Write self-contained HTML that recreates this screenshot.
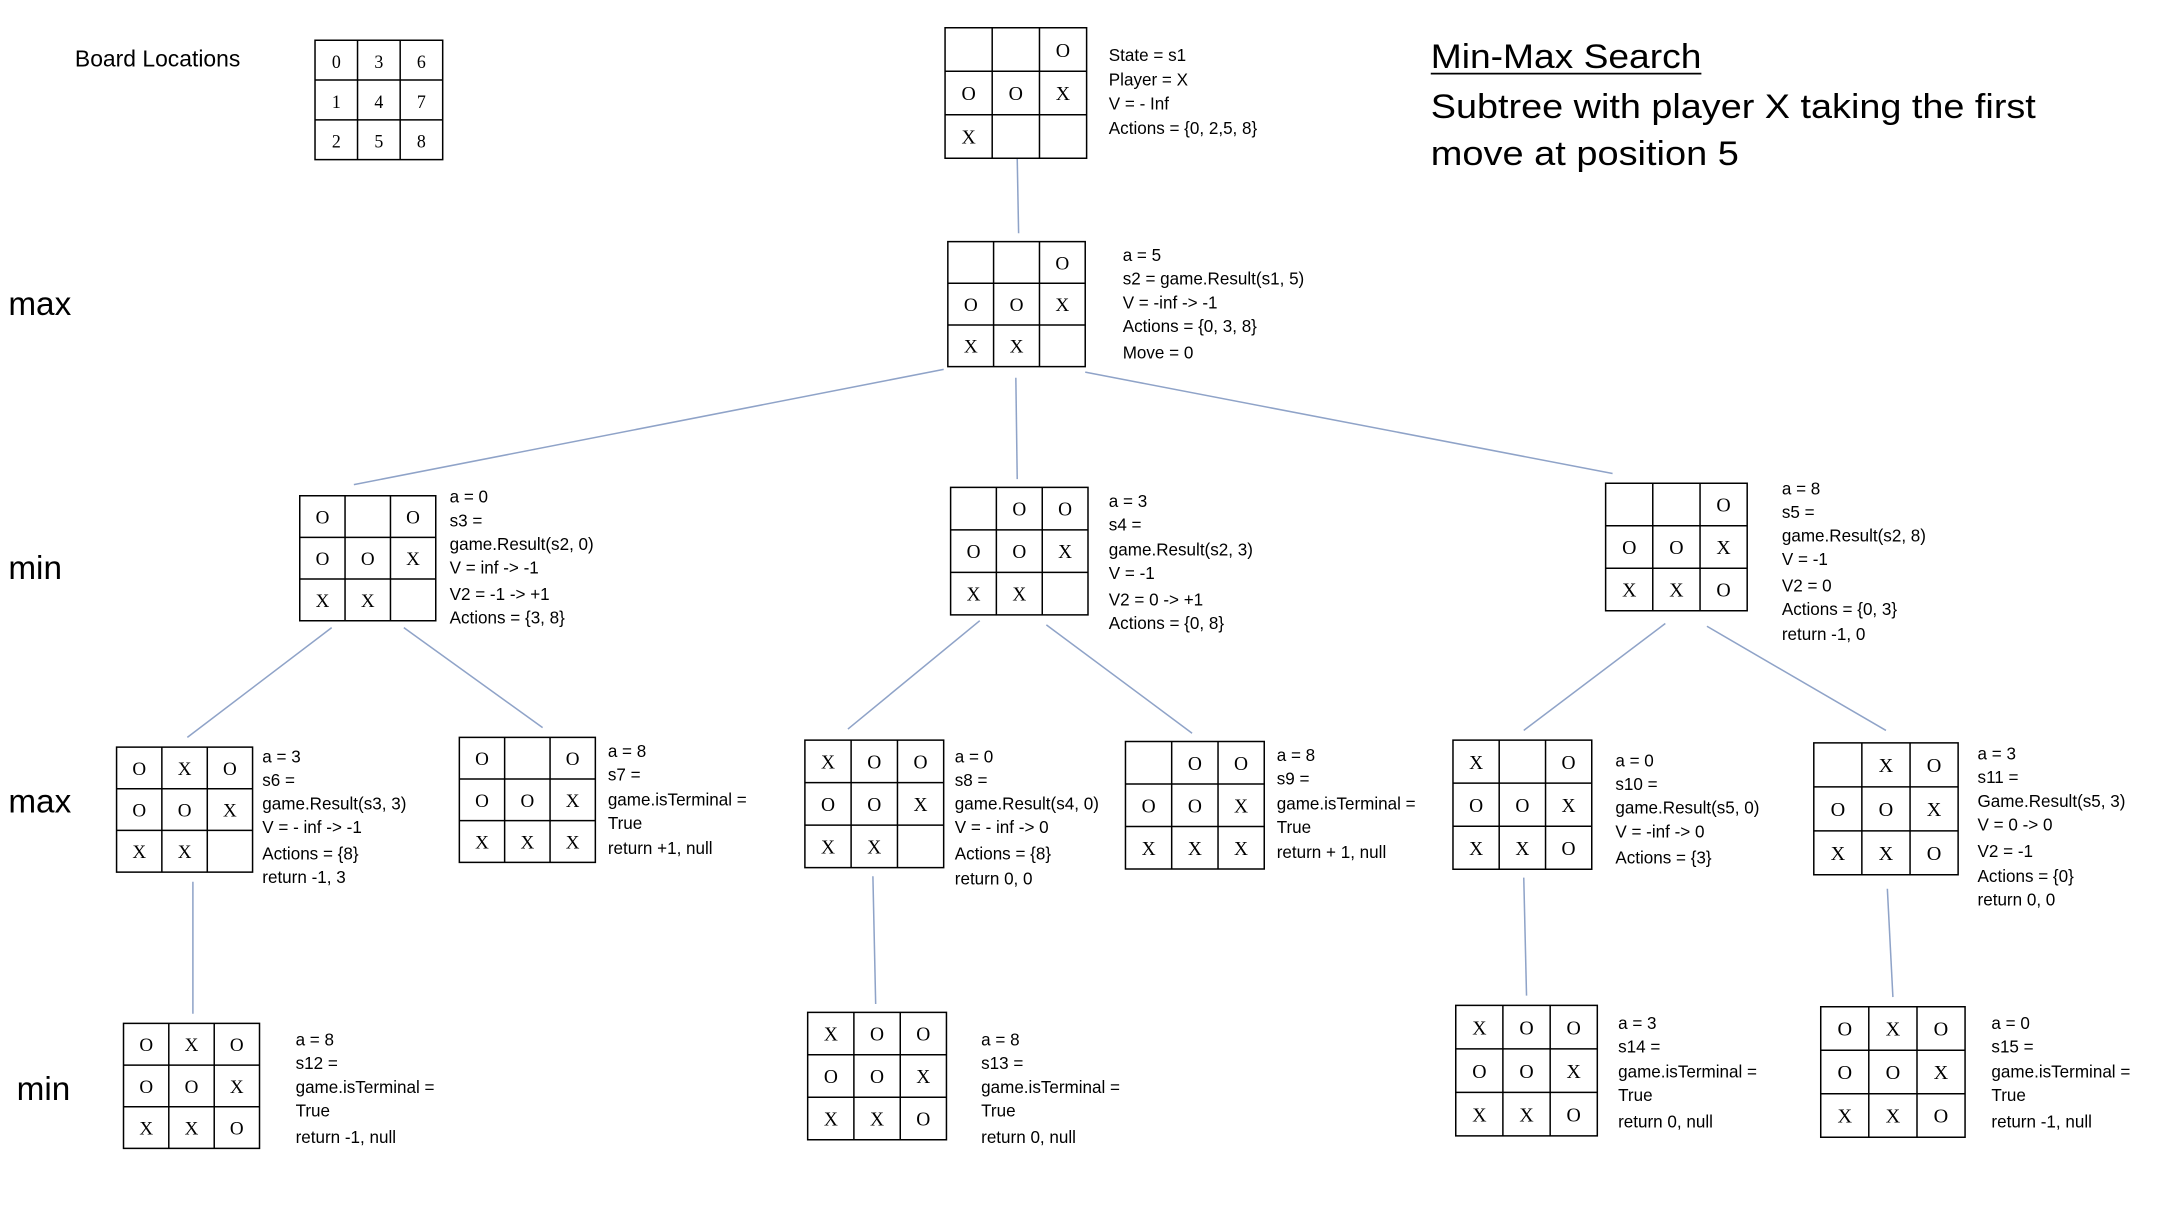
<!DOCTYPE html>
<html><head><meta charset="utf-8"><style>
html,body{margin:0;padding:0;background:#fff;}
svg{display:block;}
text{font-family:"Liberation Sans",sans-serif;fill:#000;}
.l{font-size:12.3px;}
.c text{font-family:"Liberation Serif",serif;font-size:14px;text-anchor:middle;}
.g line,.g rect{stroke:#000;fill:none;stroke-width:1.5;vector-effect:non-scaling-stroke;}
.k line{stroke:#8fa3c8;stroke-width:1.1;}
</style></head><body>
<svg width="2176" height="1222" viewBox="0 0 1568 880" preserveAspectRatio="none" xmlns="http://www.w3.org/2000/svg">
<defs>
<g id="grid" class="g"><rect x="0" y="0" width="100" height="90"/><line x1="33.3" y1="0" x2="33.3" y2="90"/><line x1="66.7" y1="0" x2="66.7" y2="90"/><line x1="0" y1="30" x2="100" y2="30"/><line x1="0" y1="60" x2="100" y2="60"/></g>
</defs>

<g class="k">
<line x1="733" y1="114" x2="734" y2="168"/>
<line x1="680" y1="266" x2="255" y2="349"/>
<line x1="732" y1="272" x2="733" y2="345"/>
<line x1="782" y1="268" x2="1162" y2="341"/>
<line x1="239" y1="452" x2="135" y2="531"/>
<line x1="291" y1="452" x2="391" y2="524"/>
<line x1="706" y1="447" x2="611" y2="525"/>
<line x1="754" y1="450" x2="859" y2="528"/>
<line x1="1200" y1="449" x2="1098" y2="526"/>
<line x1="1230" y1="451" x2="1359" y2="526"/>
<line x1="139" y1="635" x2="139" y2="730"/>
<line x1="629" y1="631" x2="631" y2="723"/>
<line x1="1098" y1="632" x2="1100" y2="717"/>
<line x1="1360" y1="640" x2="1364" y2="718"/>
</g>

<text x="54" y="48" style="font-size:16.5px">Board Locations</text>
<text x="1031" y="49" style="font-size:25px" textLength="195" lengthAdjust="spacingAndGlyphs">Min-Max Search</text>
<line x1="1031" y1="53" x2="1226" y2="53" stroke="#000" stroke-width="1.3"/>
<text x="1031" y="85" style="font-size:25px" textLength="436" lengthAdjust="spacingAndGlyphs">Subtree with player X taking the first</text>
<text x="1031" y="119" style="font-size:25px" textLength="222" lengthAdjust="spacingAndGlyphs">move at position 5</text>
<text x="6" y="227" style="font-size:24px">max</text>
<text x="6" y="417" style="font-size:24px">min</text>
<text x="6" y="585" style="font-size:24px">max</text>
<text x="12" y="792" style="font-size:24px">min</text>

<g transform="translate(227,29) scale(0.92,0.955)"><use href="#grid"/>
<g class="c"><text x="16.7" y="21">0</text><text x="50" y="21">3</text><text x="83.3" y="21">6</text>
<text x="16.7" y="51">1</text><text x="50" y="51">4</text><text x="83.3" y="51">7</text>
<text x="16.7" y="81">2</text><text x="50" y="81">5</text><text x="83.3" y="81">8</text></g></g>

<g transform="translate(681,20) scale(1.02,1.044)"><use href="#grid"/>
<g class="c"><text x="83.3" y="20">O</text><text x="16.7" y="50">O</text><text x="50" y="50">O</text><text x="83.3" y="50">X</text><text x="16.7" y="80">X</text></g></g>
<g class="l"><text x="799" y="44">State = s1</text><text x="799" y="61.5">Player = X</text><text x="799" y="79">V = - Inf</text><text x="799" y="96.5">Actions = {0, 2,5, 8}</text></g>

<g transform="translate(683,174) scale(0.99,1)"><use href="#grid"/>
<g class="c"><text x="83.3" y="20">O</text><text x="16.7" y="50">O</text><text x="50" y="50">O</text><text x="83.3" y="50">X</text><text x="16.7" y="80">X</text><text x="50" y="80">X</text></g></g>
<g class="l"><text x="809" y="188">a = 5</text><text x="809" y="205">s2 = game.Result(s1, 5)</text><text x="809" y="222">V = -inf -&gt; -1</text><text x="809" y="239">Actions = {0, 3, 8}</text><text x="809" y="258">Move = 0</text></g>

<g transform="translate(216,357) scale(0.98,1)"><use href="#grid"/>
<g class="c"><text x="16.7" y="20">O</text><text x="83.3" y="20">O</text><text x="16.7" y="50">O</text><text x="50" y="50">O</text><text x="83.3" y="50">X</text><text x="16.7" y="80">X</text><text x="50" y="80">X</text></g></g>
<g class="l"><text x="324" y="362">a = 0</text><text x="324" y="379">s3 =</text><text x="324" y="396">game.Result(s2, 0)</text><text x="324" y="413">V = inf -&gt; -1</text><text x="324" y="432">V2 = -1 -&gt; +1</text><text x="324" y="449">Actions = {3, 8}</text></g>

<g transform="translate(685,351) scale(0.99,1.02)"><use href="#grid"/>
<g class="c"><text x="50" y="20">O</text><text x="83.3" y="20">O</text><text x="16.7" y="50">O</text><text x="50" y="50">O</text><text x="83.3" y="50">X</text><text x="16.7" y="80">X</text><text x="50" y="80">X</text></g></g>
<g class="l"><text x="799" y="365">a = 3</text><text x="799" y="382">s4 =</text><text x="799" y="400">game.Result(s2, 3)</text><text x="799" y="417">V = -1</text><text x="799" y="436">V2 = 0 -&gt; +1</text><text x="799" y="453">Actions = {0, 8}</text></g>

<g transform="translate(1157,348) scale(1.02,1.02)"><use href="#grid"/>
<g class="c"><text x="83.3" y="20">O</text><text x="16.7" y="50">O</text><text x="50" y="50">O</text><text x="83.3" y="50">X</text><text x="16.7" y="80">X</text><text x="50" y="80">X</text><text x="83.3" y="80">O</text></g></g>
<g class="l"><text x="1284" y="356">a = 8</text><text x="1284" y="373">s5 =</text><text x="1284" y="390">game.Result(s2, 8)</text><text x="1284" y="407">V = -1</text><text x="1284" y="426">V2 = 0</text><text x="1284" y="443">Actions = {0, 3}</text><text x="1284" y="461">return -1, 0</text></g>

<g transform="translate(84,538) scale(0.98,1)"><use href="#grid"/>
<g class="c"><text x="16.7" y="20">O</text><text x="50" y="20">X</text><text x="83.3" y="20">O</text><text x="16.7" y="50">O</text><text x="50" y="50">O</text><text x="83.3" y="50">X</text><text x="16.7" y="80">X</text><text x="50" y="80">X</text></g></g>
<g class="l"><text x="189" y="549">a = 3</text><text x="189" y="566">s6 =</text><text x="189" y="583">game.Result(s3, 3)</text><text x="189" y="600">V = - inf -&gt; -1</text><text x="189" y="619">Actions = {8}</text><text x="189" y="636">return -1, 3</text></g>

<g transform="translate(331,531) scale(0.98,1)"><use href="#grid"/>
<g class="c"><text x="16.7" y="20">O</text><text x="83.3" y="20">O</text><text x="16.7" y="50">O</text><text x="50" y="50">O</text><text x="83.3" y="50">X</text><text x="16.7" y="80">X</text><text x="50" y="80">X</text><text x="83.3" y="80">X</text></g></g>
<g class="l"><text x="438" y="545">a = 8</text><text x="438" y="562">s7 =</text><text x="438" y="580">game.isTerminal =</text><text x="438" y="597">True</text><text x="438" y="615">return +1, null</text></g>

<g transform="translate(580,533) scale(1,1.02)"><use href="#grid"/>
<g class="c"><text x="16.7" y="20">X</text><text x="50" y="20">O</text><text x="83.3" y="20">O</text><text x="16.7" y="50">O</text><text x="50" y="50">O</text><text x="83.3" y="50">X</text><text x="16.7" y="80">X</text><text x="50" y="80">X</text></g></g>
<g class="l"><text x="688" y="549">a = 0</text><text x="688" y="566">s8 =</text><text x="688" y="583">game.Result(s4, 0)</text><text x="688" y="600">V = - inf -&gt; 0</text><text x="688" y="619">Actions = {8}</text><text x="688" y="637">return 0, 0</text></g>

<g transform="translate(811,534) scale(1,1.02)"><use href="#grid"/>
<g class="c"><text x="50" y="20">O</text><text x="83.3" y="20">O</text><text x="16.7" y="50">O</text><text x="50" y="50">O</text><text x="83.3" y="50">X</text><text x="16.7" y="80">X</text><text x="50" y="80">X</text><text x="83.3" y="80">X</text></g></g>
<g class="l"><text x="920" y="548">a = 8</text><text x="920" y="565">s9 =</text><text x="920" y="583">game.isTerminal =</text><text x="920" y="600">True</text><text x="920" y="618">return + 1, null</text></g>

<g transform="translate(1047,533) scale(1,1.033)"><use href="#grid"/>
<g class="c"><text x="16.7" y="20">X</text><text x="83.3" y="20">O</text><text x="16.7" y="50">O</text><text x="50" y="50">O</text><text x="83.3" y="50">X</text><text x="16.7" y="80">X</text><text x="50" y="80">X</text><text x="83.3" y="80">O</text></g></g>
<g class="l"><text x="1164" y="552">a = 0</text><text x="1164" y="569">s10 =</text><text x="1164" y="586">game.Result(s5, 0)</text><text x="1164" y="603">V = -inf -&gt; 0</text><text x="1164" y="622">Actions = {3}</text></g>

<g transform="translate(1307,535) scale(1.04,1.055)"><use href="#grid"/>
<g class="c"><text x="50" y="20">X</text><text x="83.3" y="20">O</text><text x="16.7" y="50">O</text><text x="50" y="50">O</text><text x="83.3" y="50">X</text><text x="16.7" y="80">X</text><text x="50" y="80">X</text><text x="83.3" y="80">O</text></g></g>
<g class="l"><text x="1425" y="547">a = 3</text><text x="1425" y="564">s11 =</text><text x="1425" y="581">Game.Result(s5, 3)</text><text x="1425" y="598">V = 0 -&gt; 0</text><text x="1425" y="617">V2 = -1</text><text x="1425" y="635">Actions = {0}</text><text x="1425" y="652">return 0, 0</text></g>

<g transform="translate(89,737) scale(0.98,1)"><use href="#grid"/>
<g class="c"><text x="16.7" y="20">O</text><text x="50" y="20">X</text><text x="83.3" y="20">O</text><text x="16.7" y="50">O</text><text x="50" y="50">O</text><text x="83.3" y="50">X</text><text x="16.7" y="80">X</text><text x="50" y="80">X</text><text x="83.3" y="80">O</text></g></g>
<g class="l"><text x="213" y="753">a = 8</text><text x="213" y="770">s12 =</text><text x="213" y="787">game.isTerminal =</text><text x="213" y="804">True</text><text x="213" y="823">return -1, null</text></g>

<g transform="translate(582,729) scale(1,1.02)"><use href="#grid"/>
<g class="c"><text x="16.7" y="20">X</text><text x="50" y="20">O</text><text x="83.3" y="20">O</text><text x="16.7" y="50">O</text><text x="50" y="50">O</text><text x="83.3" y="50">X</text><text x="16.7" y="80">X</text><text x="50" y="80">X</text><text x="83.3" y="80">O</text></g></g>
<g class="l"><text x="707" y="753">a = 8</text><text x="707" y="770">s13 =</text><text x="707" y="787">game.isTerminal =</text><text x="707" y="804">True</text><text x="707" y="823">return 0, null</text></g>

<g transform="translate(1049,724) scale(1.02,1.044)"><use href="#grid"/>
<g class="c"><text x="16.7" y="20">X</text><text x="50" y="20">O</text><text x="83.3" y="20">O</text><text x="16.7" y="50">O</text><text x="50" y="50">O</text><text x="83.3" y="50">X</text><text x="16.7" y="80">X</text><text x="50" y="80">X</text><text x="83.3" y="80">O</text></g></g>
<g class="l"><text x="1166" y="741">a = 3</text><text x="1166" y="758">s14 =</text><text x="1166" y="776">game.isTerminal =</text><text x="1166" y="793">True</text><text x="1166" y="812">return 0, null</text></g>

<g transform="translate(1312,725) scale(1.04,1.044)"><use href="#grid"/>
<g class="c"><text x="16.7" y="20">O</text><text x="50" y="20">X</text><text x="83.3" y="20">O</text><text x="16.7" y="50">O</text><text x="50" y="50">O</text><text x="83.3" y="50">X</text><text x="16.7" y="80">X</text><text x="50" y="80">X</text><text x="83.3" y="80">O</text></g></g>
<g class="l"><text x="1435" y="741">a = 0</text><text x="1435" y="758">s15 =</text><text x="1435" y="776">game.isTerminal =</text><text x="1435" y="793">True</text><text x="1435" y="812">return -1, null</text></g>
</svg>
</body></html>
